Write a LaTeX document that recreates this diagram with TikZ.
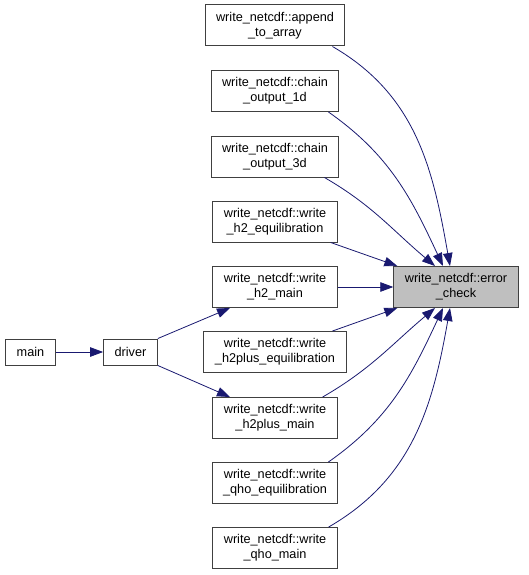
\documentclass[tikz,border=0pt]{standalone}
\usepackage{fontspec}
\setmainfont{Liberation Sans}
\usetikzlibrary{arrows.meta}
\definecolor{edgeblue}{RGB}{25,25,112}

\begin{document}
\begin{tikzpicture}[x=1pt, y=-1pt,
	fn/.style={draw=black!75, line width=1pt, fill=white, align=center, inner xsep=11pt,
		minimum height=41pt, font=\fontsize{12.7}{15}\selectfont},
	fnone/.style={fn, minimum height=26pt},
	edge/.style={edgeblue, line width=0.8pt, -{Triangle[length=13pt,width=9.5pt]}}]
	\useasboundingbox (0, 0) rectangle (528, 575);
	%callers
	\node[fn] (app) at (275, 25.5) {write\_netcdf::append\\\_to\_array};
	\node[fn] (out1d) at (275, 91) {write\_netcdf::chain\\\_output\_1d};
	\node[fn] (out3d) at (275, 156.5) {write\_netcdf::chain\\\_output\_3d};
	\node[fn] (h2eq) at (275, 221.5) {write\_netcdf::write\\\_h2\_equilibration};
	\node[fn] (h2main) at (275, 287) {write\_netcdf::write\\\_h2\_main};
	\node[fn] (h2peq) at (275, 352) {write\_netcdf::write\\\_h2plus\_equilibration};
	\node[fn] (h2pmain) at (275, 418) {write\_netcdf::write\\\_h2plus\_main};
	\node[fn] (qhoeq) at (275, 483) {write\_netcdf::write\\\_qho\_equilibration};
	\node[fn] (qhomain) at (275, 548) {write\_netcdf::write\\\_qho\_main};
	%callee
	\node[fn, fill=black!25] (err) at (456, 287) {write\_netcdf::error\\\_check};
	%main and driver
	\node[fnone] (mainfn) at (30.5, 352) {main};
	\node[fnone] (driver) at (130.5, 352) {driver};
	%edges into error_check
	\draw[edge] ([xshift=-13pt]app.south east) to[out=-30, in=100] ([xshift=-6pt]err.north);
	\draw[edge] ([xshift=-11pt]out1d.south east) to[out=-35, in=115] ([xshift=-13pt]err.north);
	\draw[edge] ([xshift=-15pt]out3d.south east) to[out=-30, in=140] ([xshift=-21pt]err.north);
	\draw[edge] ([xshift=-7pt]h2eq.south east) -- ([xshift=4pt]err.north west);
	\draw[edge] (h2main.east) -- (err.west);
	\draw[edge] ([xshift=-14pt]h2peq.north east) -- ([xshift=4pt]err.south west);
	\draw[edge] ([xshift=-15pt]h2pmain.north east) to[out=30, in=-140] ([xshift=-21pt]err.south);
	\draw[edge] ([xshift=-10pt]qhoeq.north east) to[out=35, in=-115] ([xshift=-13pt]err.south);
	\draw[edge] ([xshift=-9pt]qhomain.north east) to[out=30, in=-100] ([xshift=-6pt]err.south);
	%driver edges
	\draw[edge] (mainfn) -- (driver);
	\draw[edge] (driver.north east) -- ([xshift=-45pt]h2main.south);
	\draw[edge] (driver.south east) -- ([xshift=-45pt]h2pmain.north);
\end{tikzpicture}
\end{document}
